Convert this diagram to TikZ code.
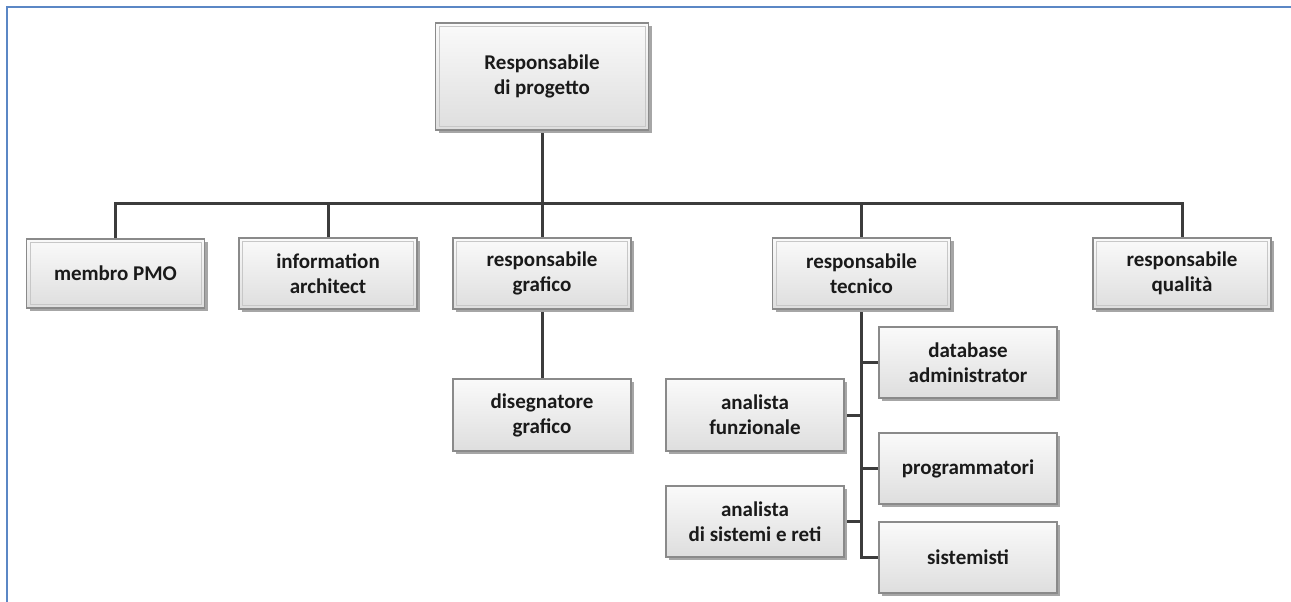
\documentclass[tikz,border=0pt]{standalone}
\usepackage{fontspec}
\setmainfont{Carlito}
\usetikzlibrary{shadows,backgrounds}
\definecolor{frameblue}{HTML}{5B87C5}
\definecolor{linegray}{HTML}{3C3C3C}
\definecolor{boxedge}{HTML}{8A8A8A}
\definecolor{txt}{HTML}{1A1A1A}
\tikzset{
  card/.style={draw=boxedge, line width=1.1pt, top color=white!98!black, bottom color=white!87!black,
    minimum width=178pt, minimum height=70pt, inner sep=0pt, align=center,
    font=\fontsize{21}{25}\selectfont\bfseries, text=txt,
    drop shadow={shadow xshift=3pt, shadow yshift=-3pt, fill=black!35, opacity=1}},
  dcard/.style={card, path picture={
    \draw[black!22, line width=1pt] ([shift={(3.5pt,-3.5pt)}]path picture bounding box.north west)
      rectangle ([shift={(-3.5pt,3.5pt)}]path picture bounding box.south east);}},
  link/.style={draw=linegray, line width=3pt},
  frame/.style={draw=frameblue, line width=2.6pt}
}
\begin{document}
\begin{tikzpicture}[x=1pt,y=-1pt]
\useasboundingbox (0,0) rectangle (1291,602);
\draw[frame] (7,603) -- (7,7) -- (1292,7);
% top
\node[dcard, minimum width=213pt, minimum height=107pt] (top) at (542,76.5) {Responsabile\\di progetto};
% row 2
\node[dcard, minimum height=69pt] (pmo) at (115.5,273.5) {membro PMO};
\node[dcard, minimum height=71pt] (info) at (328,273.5) {information\\architect};
\node[dcard, minimum height=71pt] (graf) at (542,273.5) {responsabile\\grafico};
\node[dcard, minimum height=71pt] (tec) at (861.5,273.5) {responsabile\\tecnico};
\node[dcard, minimum height=71pt] (qual) at (1182,273.5) {responsabile\\qualità};
% lower
\node[card, minimum height=72pt] (dis) at (542,415) {disegnatore\\grafico};
\node[card, minimum height=71pt] (db) at (968,362.5) {database\\administrator};
\node[card, minimum height=72pt] (fun) at (755,415) {analista\\funzionale};
\node[card, minimum height=71pt] (prog) at (968,468.5) {programmatori};
\node[card, minimum height=71pt] (sis) at (755,521.5) {analista\\di sistemi e reti};
\node[card, minimum height=71pt] (sti) at (968,557.5) {sistemisti};
\coordinate (bus) at (0,203);
\coordinate (trunk) at (861,0);
\begin{scope}[on background layer]
\draw[link] (pmo.north) -- (pmo.north |- bus) -- (qual.north |- bus) -- (qual.north);
\draw[link] (info.north) -- (info.north |- bus);
\draw[link] (tec.north) -- (tec.north |- bus);
\draw[link] (top.south) -- (graf.north);
\draw[link] (graf.south) -- (dis.north);
\draw[link] (tec.south -| trunk) -- (trunk |- sti.west) -- (sti.west);
\draw[link] (db.west) -- (db.west -| trunk);
\draw[link] (prog.west) -- (prog.west -| trunk);
\draw[link] (fun.east) -- (fun.east -| trunk);
\draw[link] (sis.east) -- (sis.east -| trunk);
\end{scope}
\end{tikzpicture}
\end{document}
